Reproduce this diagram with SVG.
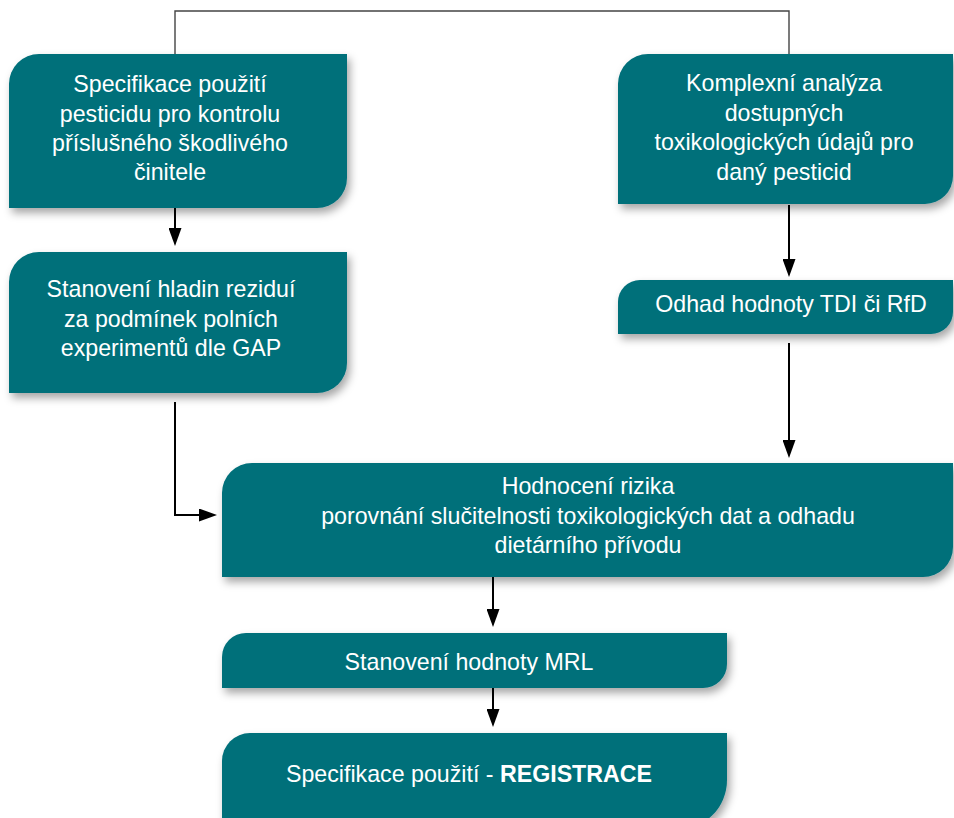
<svg xmlns="http://www.w3.org/2000/svg" width="954" height="818" viewBox="0 0 954 818">
<defs>
<filter id="sh" x="-10%" y="-20%" width="125%" height="150%">
<feDropShadow dx="3" dy="5" stdDeviation="4" flood-color="#000" flood-opacity="0.35"/>
</filter>
<marker id="ah" markerUnits="userSpaceOnUse" markerWidth="18" markerHeight="13" refX="10" refY="6.5" orient="auto">
<path d="M0,0 L18,6.5 L0,13 Z" fill="#000"/>
</marker>
</defs>
<style>
.box{fill:#00707A;filter:url(#sh)}
.t{fill:#fff;font-family:"Liberation Sans",Arial,Helvetica,sans-serif;font-size:23.2px;text-anchor:middle}
.b{font-weight:bold}
.con{fill:none;stroke:#000;stroke-width:2}
.top{fill:none;stroke:#444;stroke-width:1.4}
</style>
<rect width="954" height="818" fill="#fff"/>
<g id="connectors">
<path class="top" d="M175,54 L175,11 L789,11 L789,54"/>
<path class="con" d="M175,208 L175,238" marker-end="url(#ah)"/>
<path class="con" d="M789,205 L789,269" marker-end="url(#ah)"/>
<path class="con" d="M789,343 L789,450" marker-end="url(#ah)"/>
<path class="con" d="M175,402 L175,515 L209,515" marker-end="url(#ah)"/>
<path class="con" d="M493,577 L493,619" marker-end="url(#ah)"/>
<path class="con" d="M493,688 L493,719" marker-end="url(#ah)"/>
</g>
<g id="n1">
<path class="box" d="M9,84 A30,30 0 0 1 39,54 L347,54 L347,178 A30,30 0 0 1 317,208 L9,208 Z"/>
<text class="t" x="170" y="92">Specifikace použití</text>
<text class="t" x="170" y="122">pesticidu pro kontrolu</text>
<text class="t" x="170" y="151">příslušného škodlivého</text>
<text class="t" x="170" y="180">činitele</text>
</g>
<g id="n2">
<path class="box" d="M618,84 A30,30 0 0 1 648,54 L953,54 L953,176 A28,28 0 0 1 925,204 L618,204 Z"/>
<text class="t" x="784" y="91">Komplexní analýza</text>
<text class="t" x="784" y="121">dostupných</text>
<text class="t" x="784" y="150">toxikologických údajů pro</text>
<text class="t" x="784" y="180">daný pesticid</text>
</g>
<g id="n3">
<path class="box" d="M9,282 A30,30 0 0 1 39,252 L347,252 L347,363 A30,30 0 0 1 317,393 L9,393 Z"/>
<text class="t" x="171" y="297">Stanovení hladin reziduí</text>
<text class="t" x="171" y="327">za podmínek polních</text>
<text class="t" x="171" y="356">experimentů dle GAP</text>
</g>
<g id="n4">
<path class="box" d="M618,302 A22,22 0 0 1 640,280 L953,280 L953,312 A22,22 0 0 1 931,334 L618,334 Z"/>
<text class="t" x="791" y="312">Odhad hodnoty TDI či RfD</text>
</g>
<g id="n5">
<path class="box" d="M222,493 A30,30 0 0 1 252,463 L953,463 L953,547 A30,30 0 0 1 923,577 L222,577 Z"/>
<text class="t" x="588" y="494">Hodnocení rizika</text>
<text class="t" x="588" y="524">porovnání slučitelnosti toxikologických dat a odhadu</text>
<text class="t" x="588" y="553">dietárního přívodu</text>
</g>
<g id="n6">
<path class="box" d="M222,657 A24,24 0 0 1 246,633 L727,633 L727,664 A24,24 0 0 1 703,688 L222,688 Z"/>
<text class="t" x="469" y="670">Stanovení hodnoty MRL</text>
</g>
<g id="n7">
<path class="box" d="M222,761 A28,28 0 0 1 250,733 L727,733 L727,780 A50,50 0 0 1 677,830 L222,830 Z"/>
<text class="t" x="469" y="782">Specifikace použití - <tspan class="b">REGISTRACE</tspan></text>
</g>
</svg>
